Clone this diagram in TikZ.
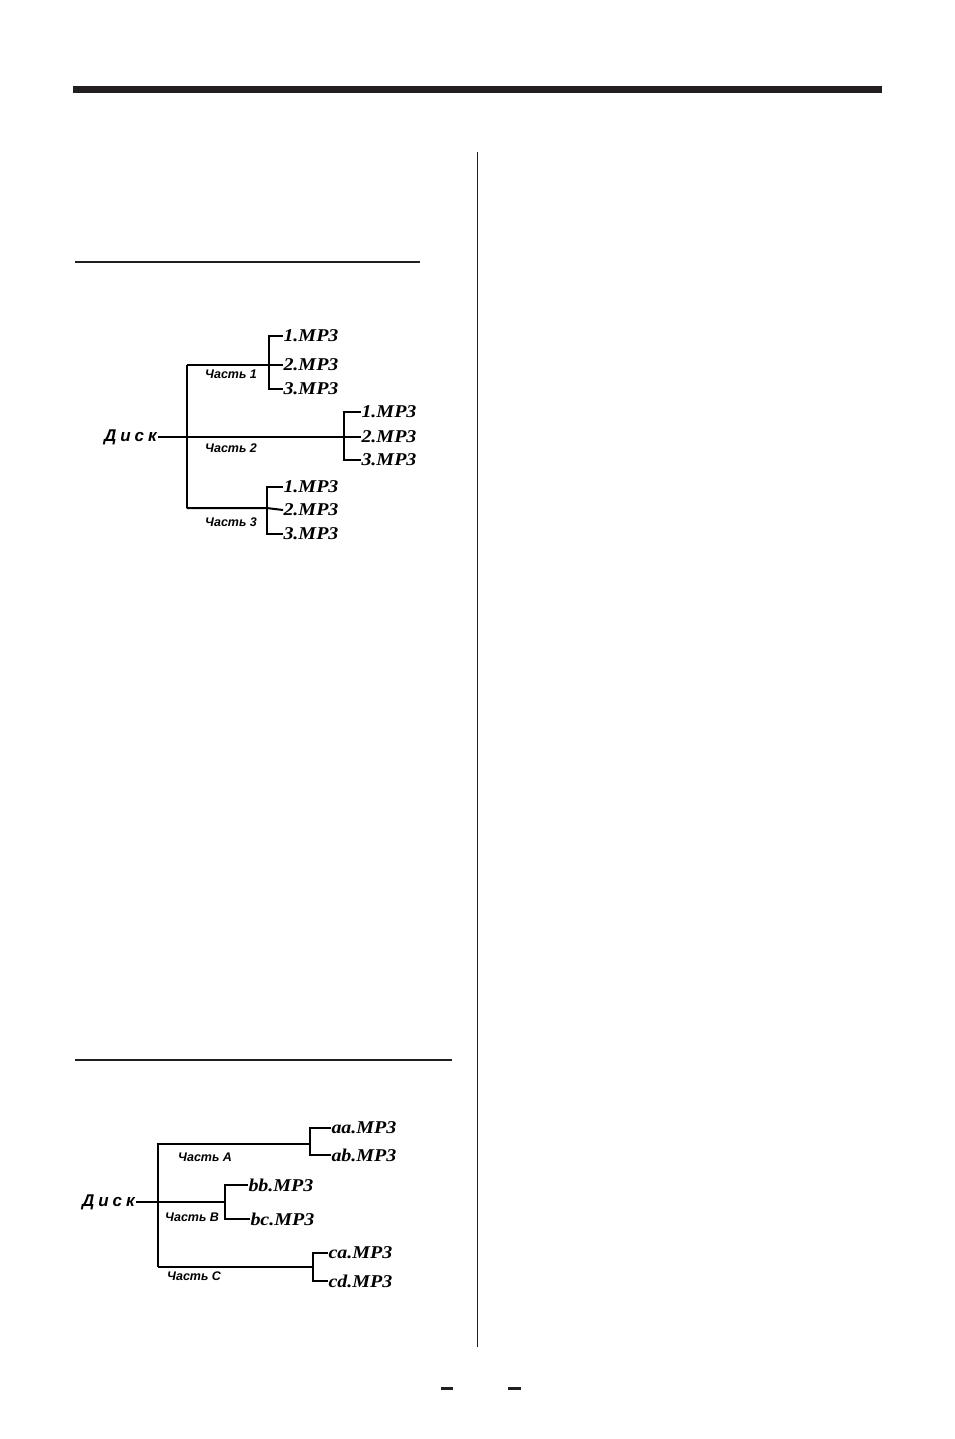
\documentclass[tikz,border=0pt]{standalone}
\usepackage{fontspec}
\setmainfont{Liberation Serif}
\newfontfamily\lsans{Liberation Sans}
\definecolor{ink}{HTML}{231F20}
\newcommand\mpf[1]{\scalebox{1.11}[1]{#1}}
\newcommand\dsk{Д\kern4ptи\kern4ptс\kern4ptк}
\tikzset{
  tree/.style={line width=2pt, black},
  rule/.style={ink},
  file/.style={anchor=west, inner sep=0.3pt, font=\fontsize{18}{18}\selectfont\bfseries\itshape},
  part/.style={anchor=west, inner sep=0pt, font=\lsans\fontsize{12.5}{12.5}\selectfont\bfseries\itshape},
  disk/.style={anchor=east, inner sep=1pt, font=\lsans\fontsize{17}{17}\selectfont\bfseries\itshape}
}
\begin{document}
\begin{tikzpicture}[x=1pt,y=-1pt]
\useasboundingbox (0,0) rectangle (954,1439);
% page rules
\fill[rule] (73,86.5) rectangle (882,93.5);
\draw[rule, line width=2pt] (75,262) -- (420,262);
\draw[rule, line width=1.3pt] (75,1060) -- (452,1060);
\draw[rule, line width=1.3pt] (477.7,152.5) -- (477.7,1346.5);
\fill[rule] (441,1387) rectangle (453,1390);
\fill[rule] (508,1387) rectangle (521,1390);

% ---------- tree 1 ----------
\node[disk] (d1) at (158,437) {\dsk};
\coordinate (t1) at (186.7,365);
\coordinate (j1) at (186.7,437);
\coordinate (t3) at (186.7,508);
\coordinate (g1) at (269,365);
\coordinate (g2) at (344.3,437);
\coordinate (g3) at (266.5,508);

\node[file] (f11) at (283,336) {\mpf{1.MP3}};
\node[file] (f12) at (283,365) {\mpf{2.MP3}};
\node[file] (f13) at (283,389) {\mpf{3.MP3}};
\node[file] (f21) at (361,412) {\mpf{1.MP3}};
\node[file] (f22) at (361,437) {\mpf{2.MP3}};
\node[file] (f23) at (361,460) {\mpf{3.MP3}};
\node[file] (f31) at (283,487) {\mpf{1.MP3}};
\node[file] (f32) at (283,510) {\mpf{2.MP3}};
\node[file] (f33) at (283,534) {\mpf{3.MP3}};

\node[part] (p1) at (205,374) {Часть 1};
\node[part] (p2) at (205,448) {Часть 2};
\node[part] (p3) at (205,522) {Часть 3};

\draw[tree] (t1) -- (t3);
\draw[tree] (d1.east) -- (j1);
\draw[tree] (t1) -- (g1) -- (f12.west);
\draw[tree] (j1) -- (g2) -- (f22.west);
\draw[tree] (t3) -- (g3) -- (f32.west);
\draw[tree] (f11.west) -| (g1) |- (f13.west);
\draw[tree] (f21.west) -| (g2) |- (f23.west);
\draw[tree] (f31.west) -| (g3) |- (f33.west);

% ---------- tree 2 ----------
\node[disk] (d2) at (136,1202) {\dsk};
\coordinate (uA) at (158.3,1144);
\coordinate (uB) at (158.3,1202);
\coordinate (uC) at (158.3,1267);
\coordinate (hA) at (156.5,1144);
\coordinate (kA) at (310,1144);
\coordinate (kB) at (225,1202);
\coordinate (kC) at (313,1267);

\node[file] (aa) at (331,1128) {\mpf{aa.MP3}};
\node[file] (ab) at (331,1155) {\mpf{ab.MP3}};
\node[file] (bb) at (248,1185) {\mpf{bb.MP3}};
\node[file] (bc) at (250,1219) {\mpf{bc.MP3}};
\node[file] (ca) at (328,1253) {\mpf{ca.MP3}};
\node[file] (cd) at (328,1281) {\mpf{cd.MP3}};

\node[part] (pA) at (178,1157) {Часть A};
\node[part] (pB) at (165,1217) {Часть B};
\node[part] (pC) at (167,1276) {Часть C};

\draw[tree] (uA) -- (uC);
\draw[tree] (d2.east) -- (uB);
\draw[tree] (hA) -- (kA);
\draw[tree] (uB) -- (kB);
\draw[tree] (uC) -- (kC);
\draw[tree] (aa.west) -| (kA) |- (ab.west);
\draw[tree] (bb.west) -| (kB) |- (bc.west);
\draw[tree] (ca.west) -| (kC) |- (cd.west);
\end{tikzpicture}
\end{document}
